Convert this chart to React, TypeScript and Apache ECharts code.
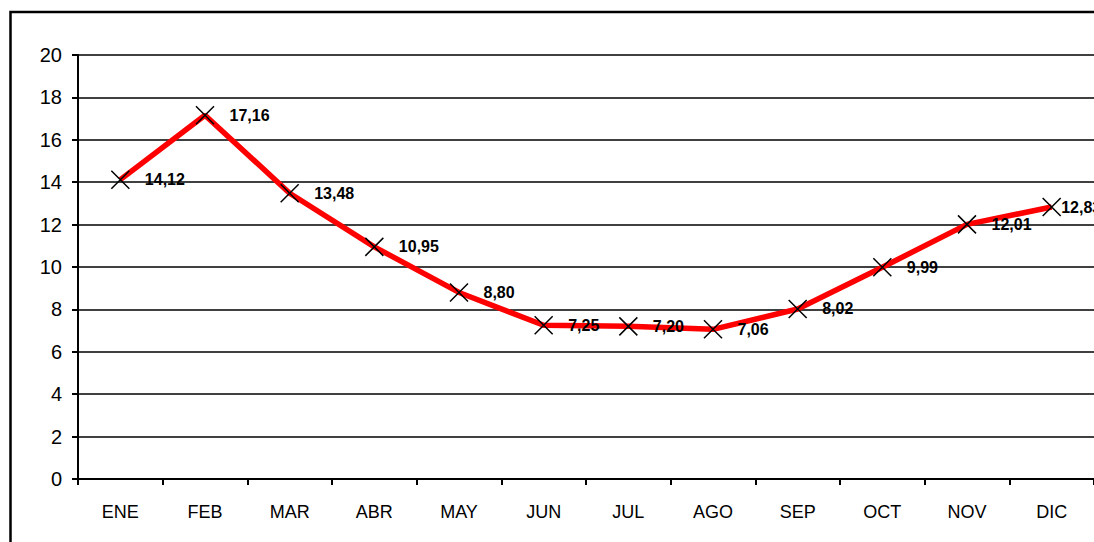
import React, { useEffect, useRef } from "react";
import * as echarts from "echarts";

const categories = ["ENE", "FEB", "MAR", "ABR", "MAY", "JUN", "JUL", "AGO", "SEP", "OCT", "NOV", "DIC"];
const values = [14.12, 17.16, 13.48, 10.95, 8.8, 7.25, 7.2, 7.06, 8.02, 9.99, 12.01, 12.83];
const yTicks = { min: 0, max: 20, interval: 2 };

export default function App() {
  const ref = useRef<HTMLDivElement>(null);
  useEffect(() => {
    if (!ref.current) return;
    const chart = echarts.init(ref.current, null, { renderer: "svg" });
    const seriesData = values.map((v, i) =>
      i === values.length - 1 ? { value: v, label: { offset: [-15, 0] } } : v
    );
    chart.setOption({
      animation: false,
      backgroundColor: "#ffffff",
      graphic: [
        {
          type: "rect",
          left: 8,
          top: 9.5,
          shape: { x: 0, y: 0, width: 1200, height: 1000 },
          style: { fill: "none", stroke: "#000", lineWidth: 2.5 },
          silent: true,
          z: 0,
        },
      ],
      grid: { left: 78, top: 55, width: 1020, bottom: 63, containLabel: false },
      xAxis: {
        type: "category",
        data: categories,
        boundaryGap: true,
        axisLine: { lineStyle: { color: "#000", width: 2 } },
        axisTick: { show: true, length: 6, inside: false, alignWithLabel: false, lineStyle: { color: "#000", width: 2 } },
        axisLabel: { color: "#000", fontSize: 18, fontFamily: "Liberation Sans, Arial, sans-serif", margin: 24 },
        splitLine: { show: false },
      },
      yAxis: {
        type: "value",
        min: yTicks.min,
        max: yTicks.max,
        interval: yTicks.interval,
        axisLine: { show: true, lineStyle: { color: "#000", width: 2 } },
        axisTick: { show: true, length: 6, lineStyle: { color: "#000", width: 2 } },
        axisLabel: { color: "#000", fontSize: 20, fontFamily: "Liberation Sans, Arial, sans-serif", margin: 16 },
        splitLine: { show: true, lineStyle: { color: "#000", width: 1.5 } },
      },
      series: [
        {
          type: "line",
          data: seriesData,
          lineStyle: { color: "#ff0000", width: 5.5 },
          symbol: "path://M0,0L10,10M10,0L0,10",
          symbolSize: 18,
          itemStyle: { color: "none", borderColor: "#000", borderWidth: 1.5 },
          label: {
            show: true,
            position: "right",
            distance: 13,
            color: "#000",
            fontWeight: "bold",
            fontSize: 16,
            fontFamily: "Liberation Sans, Arial, sans-serif",
            formatter: (p: any) => Number(p.value).toFixed(2).replace(".", ","),
          },
          z: 3,
        },
      ],
    });
    return () => chart.dispose();
  }, []);
  return (
    <div
      ref={ref}
      style={{ position: "absolute", left: 0, top: 0, width: 1094, height: 542 }}
    />
  );
}
